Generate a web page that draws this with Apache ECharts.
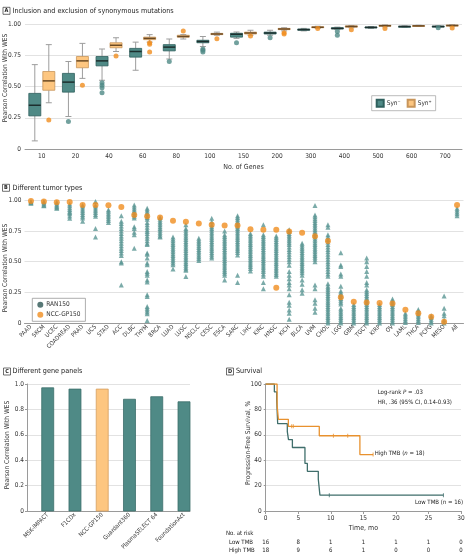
<!DOCTYPE html>
<html><head><meta charset="utf-8">
<script src="https://cdn.jsdelivr.net/npm/echarts@6/dist/echarts.min.js"></script>
<style>html,body{margin:0;padding:0;background:#fff}#c{width:468px;height:558px}</style>
</head><body><div id="c"></div>
<script>
// ---------- Panel A: inclusion / exclusion of synonymous mutations ----------
const geneCounts = ['10','20','40','60','80','100','150','200','300','400','500','600','700'];
// [low whisker, Q1, median, Q3, high whisker]
const synNegBox = [
  [0.065,0.265,0.35,0.445,0.675],
  [0.26,0.455,0.535,0.605,0.70],
  [0.55,0.665,0.705,0.74,0.80],
  [0.63,0.735,0.78,0.805,0.855],
  [0.72,0.785,0.815,0.835,0.88],
  [0.82,0.85,0.86,0.87,0.90],
  [0.885,0.895,0.918,0.926,0.936],
  [0.91,0.92,0.928,0.935,0.95],
  [0.945,0.95,0.955,0.96,0.965],
  [0.955,0.96,0.965,0.97,0.975],
  [0.965,0.97,0.973,0.976,0.98],
  [0.975,0.978,0.98,0.982,0.985],
  [0.975,0.978,0.98,0.983,0.985]
];
const synPosBox = [
  [0.37,0.47,0.545,0.62,0.835],
  [0.565,0.65,0.705,0.74,0.845],
  [0.78,0.81,0.83,0.85,0.89],
  [0.855,0.875,0.885,0.895,0.915],
  [0.88,0.895,0.90,0.91,0.915],
  [0.91,0.915,0.92,0.925,0.935],
  [0.91,0.92,0.928,0.935,0.95],
  [0.945,0.955,0.96,0.965,0.97],
  [0.965,0.97,0.974,0.978,0.982],
  [0.97,0.975,0.98,0.985,0.988],
  [0.978,0.982,0.986,0.99,0.993],
  [0.98,0.983,0.985,0.988,0.99],
  [0.982,0.985,0.988,0.991,0.994]
];
const synNegOutliers = [[1,0.22],[2,0.53],[2,0.51],[2,0.49],[2,0.45],[4,0.70],[5,0.80],[5,0.79],[5,0.776],[6,0.85],[7,0.89],[9,0.94],[9,0.91],[12,0.97]];
const synPosOutliers = [[0,0.232],[1,0.51],[2,0.744],[3,0.85],[3,0.838],[3,0.776],[4,0.944],[5,0.882],[6,0.904],[7,0.93],[7,0.92],[8,0.965],[9,0.955],[10,0.965],[12,0.968]];

// ---------- Panel B: different tumor types ----------
const tumorTypes = ['PAAD','SKCM','UCEC','COADREAD','PRAD','UCS','STAD','ACC','DLBC','THYM','BRCA','LUAD','LUSC','NSCLC','CESC','ESCA','SARC','LIHC','KIRC','HNSC','KICH','BLCA','UVM','CHOL','LGG','GBM','TGCT','KIRP','OV','LAML','THCA','PCPG','MESO','All'];
const ran150 = [
  [0.99,0.985,0.98,0.975],
  [0.99,0.98,0.97,0.96,0.955],
  [0.985,0.97,0.96,0.95,0.94,0.935],
  [0.97,0.955,0.94,0.925,0.91,0.90,0.89,0.872,0.853],
  [0.96,0.945,0.93,0.915,0.90,0.885,0.87,0.855,0.83],
  [0.99,0.96,0.945,0.93,0.915,0.90,0.885,0.87,0.77,0.70],
  [0.924,0.91,0.895,0.88,0.865,0.85,0.835,0.82],
  [0.875,0.83,0.81,0.79,0.77,0.75,0.73,0.71,0.69,0.67,0.65,0.63,0.61,0.59,0.57,0.55,0.50,0.49,0.31],
  [0.962,0.945,0.93,0.915,0.90,0.885,0.87,0.855,0.785,0.77,0.74,0.72,0.61],
  [0.935,0.92,0.905,0.89,0.875,0.86,0.845,0.82,0.80,0.78,0.76,0.745,0.73,0.71,0.69,0.67,0.65,0.64,0.57,0.56,0.53,0.49,0.475,0.42,0.405,0.39,0.35,0.335,0.23,0.215,0.135,0.12,0.105,0.09,0.075,0.02],
  [0.86,0.845,0.83,0.815,0.80,0.785,0.77,0.755,0.74,0.725,0.71,0.70],
  [0.70,0.685,0.67,0.655,0.64,0.625,0.61,0.595,0.58,0.565,0.55,0.535,0.52,0.505,0.49,0.475,0.44],
  [0.80,0.77,0.755,0.74,0.725,0.71,0.695,0.68,0.665,0.65,0.635,0.62,0.605,0.59,0.575,0.56,0.545,0.53,0.515,0.50,0.485,0.47,0.455,0.44,0.43,0.378],
  [0.69,0.675,0.66,0.645,0.63,0.615,0.60,0.585,0.57,0.555,0.54,0.525,0.51],
  [0.853,0.826,0.80,0.785,0.77,0.755,0.74,0.725,0.71,0.695,0.68,0.665,0.65,0.635,0.62,0.605,0.59,0.575,0.56,0.545,0.53],
  [0.75,0.72,0.705,0.69,0.675,0.66,0.645,0.63,0.615,0.60,0.585,0.57,0.555,0.54,0.525,0.51,0.495,0.48,0.465,0.45,0.435,0.42,0.405,0.39,0.35],
  [0.875,0.86,0.845,0.83,0.815,0.80,0.785,0.77,0.755,0.74,0.725,0.71,0.695,0.68,0.665,0.65,0.635,0.62,0.605,0.59,0.575,0.555,0.39,0.33],
  [0.73,0.715,0.70,0.685,0.67,0.655,0.64,0.625,0.61,0.595,0.58,0.565,0.55,0.535,0.52,0.505,0.49,0.475,0.46,0.445,0.424],
  [0.80,0.72,0.705,0.69,0.675,0.66,0.645,0.63,0.615,0.60,0.585,0.57,0.555,0.54,0.525,0.51,0.495,0.48,0.465,0.45,0.435,0.42,0.40,0.38,0.33,0.28],
  [0.71,0.695,0.68,0.665,0.65,0.635,0.62,0.605,0.59,0.575,0.56,0.545,0.53,0.515,0.50,0.485,0.47,0.455,0.44,0.425,0.41,0.395,0.38],
  [0.76,0.745,0.73,0.715,0.70,0.685,0.67,0.655,0.64,0.62,0.60,0.58,0.56,0.54,0.52,0.50,0.47,0.42,0.39,0.36,0.33,0.31,0.28,0.23,0.17,0.145,0.105,0.08,0.03],
  [0.65,0.635,0.62,0.605,0.59,0.575,0.56,0.545,0.53,0.515,0.50,0.485,0.47,0.455,0.44,0.425,0.41,0.39,0.35,0.315,0.27,0.242],
  [0.957,0.88,0.865,0.85,0.835,0.82,0.805,0.79,0.775,0.76,0.745,0.73,0.715,0.70,0.685,0.67,0.655,0.64,0.625,0.61,0.595,0.58,0.565,0.55,0.535,0.52,0.50,0.31,0.28,0.19,0.16,0.12,0.087],
  [0.80,0.78,0.72,0.70,0.68,0.66,0.64,0.62,0.60,0.58,0.56,0.54,0.52,0.50,0.48,0.46,0.44,0.42,0.40,0.38,0.32,0.30,0.285,0.27,0.255,0.24,0.225,0.21,0.195,0.18,0.165,0.15,0.135,0.12,0.105,0.09,0.075,0.06,0.045,0.03,0.015,0.0],
  [0.573,0.473,0.46,0.40,0.38,0.30,0.26,0.245,0.23,0.215,0.20,0.185,0.17,0.155,0.12,0.105,0.09,0.075,0.06,0.045,0.03,0.015,0.0],
  [0.15,0.135,0.12,0.105,0.09,0.075,0.06,0.045,0.03,0.015,0.0],
  [0.53,0.50,0.46,0.42,0.38,0.33,0.31,0.27,0.255,0.24,0.225,0.21,0.195,0.18,0.165,0.15,0.135,0.12,0.105,0.09,0.075,0.06,0.045,0.03,0.015,0.0],
  [0.15,0.135,0.12,0.105,0.09,0.075,0.06,0.045,0.03,0.015,0.0],
  [0.196,0.18,0.165,0.15,0.135,0.12,0.105,0.09,0.075,0.06,0.045,0.03,0.015,0.0],
  [0.08,0.065,0.05,0.035,0.02,0.005],
  [0.11,0.095,0.08,0.065,0.05,0.035,0.02,0.005],
  [0.06,0.045,0.03,0.015,0.0],
  [0.22,0.12,0.08,0.06,0.025,0.0],
  [0.935,0.92,0.905,0.89,0.875]
];
const nccGp150 = [0.995,0.99,0.985,0.986,0.962,0.962,0.959,0.945,0.88,0.87,0.86,0.834,0.826,0.81,0.80,0.794,0.794,0.764,0.76,0.76,0.745,0.736,0.707,0.668,0.21,0.174,0.168,0.163,0.158,0.109,0.079,0.05,0.01,0.962];
const nccGp150Extra = [['HNSC',0.288]];

// ---------- Panel C: different gene panels ----------
const genePanels = ['MSK-IMPACT','F1CDx','NCC-GP150','Guardant360','PlasmaSELECT 64','FoundationAct'];
const panelCorr = [0.97,0.96,0.96,0.88,0.90,0.86];
const highlightPanel = 'NCC-GP150';

// ---------- Panel D: survival ----------
const lowTmbCurve = [[0,100],[1.33,93.75],[1.69,87.5],[1.84,68.75],[3.32,62.5],[3.5,56.25],[4.1,50],[6.03,37.5],[6.4,31.25],[8.08,25],[8.33,12.5],[27.3,12.5]];
const highTmbCurve = [[0,100],[1.75,83.33],[1.95,72.22],[3.48,66.67],[8.23,59.26],[14.47,44.44],[16.5,44.44]];
const lowTmbCensor = [[9.77,12.5],[27.3,12.5]];
const highTmbCensor = [[3.99,66.67],[4.24,66.67],[10.4,59.26],[12.6,59.26],[16.5,44.44]];
const riskTimes = [0,5,10,15,20,25,30];
const lowAtRisk = [16,8,1,1,1,1,0];
const highAtRisk = [18,9,6,1,0,0,0];

// ---------- styling ----------
const FONT = '"Liberation Sans Narrow","DejaVu Sans Condensed","Liberation Sans",sans-serif';
const TXT = '#333', AX = '#9a9a9a', GRID = '#e2e2e2';
const TEAL = '#4f8a86', TEAL_DARK = '#2f605d', OR_LIGHT = '#fdc680', OR_BORDER = '#c8955a', ORANGE = '#f08d1f', TRI = '#5a9693';
const LOW_LINE = '#3f6e6b', HIGH_LINE = '#e8912e';
const fmt2 = v => v === 0 ? '0' : v.toFixed(2);
const fmt1 = v => v === 0 ? '0' : v.toFixed(1);
const lab = (o) => Object.assign({fontFamily: FONT, fontSize: 6.5, color: TXT}, o || {});

function boxItem(offset, fill, stroke, median) {
  return function (params, api) {
    const i = api.value(0);
    const p = [1,2,3,4,5].map(k => api.coord([i, api.value(k)]));
    const x = p[0][0] + offset, w = 12, cap = 6;
    const ws = {stroke: '#9d9d9d', lineWidth: 1};
    return {type: 'group', children: [
      {type: 'line', shape: {x1: x, y1: p[4][1], x2: x, y2: p[3][1]}, style: ws},
      {type: 'line', shape: {x1: x, y1: p[1][1], x2: x, y2: p[0][1]}, style: ws},
      {type: 'line', shape: {x1: x - cap/2, y1: p[4][1], x2: x + cap/2, y2: p[4][1]}, style: ws},
      {type: 'line', shape: {x1: x - cap/2, y1: p[0][1], x2: x + cap/2, y2: p[0][1]}, style: ws},
      {type: 'rect', shape: {x: x - w/2, y: p[3][1], width: w, height: Math.max(p[1][1] - p[3][1], 1)}, style: {fill: fill, stroke: stroke, lineWidth: 0.8}},
      {type: 'line', shape: {x1: x - w/2, y1: p[2][1], x2: x + w/2, y2: p[2][1]}, style: {stroke: median, lineWidth: 1.5}}
    ]};
  };
}
function barItem(params, api) {
  const i = api.value(0);
  const top = api.coord([i, api.value(1)]);
  const base = api.coord([i, 0]);
  const hi = genePanels[i] === highlightPanel;
  return {type: 'rect', shape: {x: top[0] - 6, y: top[1], width: 12, height: base[1] - top[1]},
    style: {fill: hi ? OR_LIGHT : TEAL, stroke: hi ? '#d49f5f' : '#3c6f6b', lineWidth: 0.8}};
}

const chart = echarts.init(document.getElementById('c'), null, {renderer: 'canvas', width: 468, height: 558});

const gridBase = {containLabel: false, outerBoundsMode: 'none'};
const option = {
  animation: false,
  backgroundColor: '#fff',
  textStyle: {fontFamily: FONT},
  grid: [
    Object.assign({left: 25, top: 24, width: 437, height: 125}, gridBase),
    Object.assign({left: 24.5, top: 200.3, width: 439, height: 122.7}, gridBase),
    Object.assign({left: 27, top: 384, width: 163, height: 127}, gridBase),
    Object.assign({left: 265.7, top: 384, width: 195.3, height: 127}, gridBase)
  ],
  legend: [
    {left: 371.7, top: 95.7, orient: 'horizontal', padding: [3, 4], itemGap: 6, itemWidth: 7, itemHeight: 7,
     borderColor: '#aaa', borderWidth: 0.8, backgroundColor: '#fff', textStyle: lab({padding: [0, 0, 0, -2]}),
     selectedMode: false,
     data: [{name: 'Syn⁻', icon: 'rect'}, {name: 'Syn⁺', icon: 'rect'}]},
    {left: 32.3, top: 298.3, orient: 'vertical', padding: [3, 5], itemGap: 3, itemWidth: 6, itemHeight: 6,
     borderColor: '#999', borderWidth: 0.8, backgroundColor: '#fff', textStyle: lab({padding: [0, 0, 0, -2]}),
     selectedMode: false,
     data: [{name: 'RAN150', icon: 'circle', itemStyle: {color: '#2d5654'}}, {name: 'NCC-GP150', icon: 'circle'}]}
  ],
  xAxis: [
    {gridIndex: 0, type: 'category', data: geneCounts,
     axisLine: {lineStyle: {color: AX}}, axisTick: {alignWithLabel: true, length: 3, lineStyle: {color: AX}},
     axisLabel: lab({margin: 4}), name: 'No. of Genes', nameLocation: 'middle', nameGap: 15, nameTextStyle: lab({fontSize: 7})},
    {gridIndex: 1, type: 'category', data: tumorTypes,
     axisLine: {lineStyle: {color: AX}}, axisTick: {alignWithLabel: true, length: 3, lineStyle: {color: AX}},
     axisLabel: lab({rotate: 45, interval: 0, margin: 3, fontSize: 6})},
    {gridIndex: 2, type: 'value', min: -0.76, max: 5.22, splitLine: {show: false},
     axisLine: {onZero: false, lineStyle: {color: AX}}, axisTick: {show: false},
     axisLabel: lab({rotate: 45, margin: 3, fontSize: 6, customValues: [0,1,2,3,4,5], formatter: v => genePanels[Math.round(v)] || ''})},
    {gridIndex: 3, type: 'value', min: 0, max: 30, interval: 5, splitLine: {show: false},
     axisLine: {onZero: false, lineStyle: {color: AX}}, axisTick: {length: 3, lineStyle: {color: AX}},
     axisLabel: lab({margin: 4}), name: 'Time, mo', nameLocation: 'middle', nameGap: 14, nameTextStyle: lab({fontSize: 7})}
  ],
  yAxis: [
    {gridIndex: 0, type: 'value', min: 0, max: 1, interval: 0.25, axisLine: {show: false}, axisTick: {show: false},
     splitLine: {lineStyle: {color: GRID}}, axisLabel: lab({formatter: fmt2, margin: 4})},
    {gridIndex: 1, type: 'value', min: 0, max: 1, interval: 0.25, axisLine: {show: false}, axisTick: {show: false},
     splitLine: {lineStyle: {color: GRID}}, axisLabel: lab({formatter: fmt2, margin: 3})},
    {gridIndex: 2, type: 'value', min: 0, max: 1, interval: 0.2, axisLine: {show: true, onZero: false, lineStyle: {color: AX}}, axisTick: {show: true, length: 2, lineStyle: {color: AX}},
     splitLine: {lineStyle: {color: GRID}}, axisLabel: lab({formatter: fmt1, margin: 3})},
    {gridIndex: 3, type: 'value', min: 0, max: 100, interval: 20, axisLine: {show: true, onZero: false, lineStyle: {color: AX}}, axisTick: {show: true, length: 2, lineStyle: {color: AX}},
     splitLine: {lineStyle: {color: GRID}}, axisLabel: lab({margin: 4})}
  ],
  series: [
    {name: 'Syn⁻', type: 'custom', xAxisIndex: 0, yAxisIndex: 0, renderItem: boxItem(-7, TEAL, TEAL_DARK, '#1d2f2e'),
     itemStyle: {color: TEAL, borderColor: TEAL_DARK, borderWidth: 0.8},
     encode: {x: 0, y: [1,2,3,4,5]}, data: synNegBox.map((d, i) => [i].concat(d)), z: 2},
    {name: 'Syn⁺', type: 'custom', xAxisIndex: 0, yAxisIndex: 0, renderItem: boxItem(7, OR_LIGHT, OR_BORDER, '#6b4a24'),
     itemStyle: {color: OR_LIGHT, borderColor: OR_BORDER, borderWidth: 0.8},
     encode: {x: 0, y: [1,2,3,4,5]}, data: synPosBox.map((d, i) => [i].concat(d)), z: 2},
    {name: 'synNegOut', type: 'scatter', xAxisIndex: 0, yAxisIndex: 0, symbol: 'circle', symbolSize: 5, symbolOffset: [-7, 0],
     itemStyle: {color: TEAL}, data: synNegOutliers, z: 3},
    {name: 'synPosOut', type: 'scatter', xAxisIndex: 0, yAxisIndex: 0, symbol: 'circle', symbolSize: 5, symbolOffset: [7, 0],
     itemStyle: {color: ORANGE}, data: synPosOutliers, z: 3},
    {name: 'RAN150', type: 'scatter', xAxisIndex: 1, yAxisIndex: 1, symbol: 'triangle', symbolSize: 5,
     itemStyle: {color: TRI}, data: ran150.flatMap((vals, i) => vals.map(v => [i, v])), z: 2},
    {name: 'NCC-GP150', type: 'scatter', xAxisIndex: 1, yAxisIndex: 1, symbol: 'circle', symbolSize: 6,
     itemStyle: {color: ORANGE}, data: nccGp150.map((v, i) => [i, v]).concat(nccGp150Extra.map(d => [tumorTypes.indexOf(d[0]), d[1]])), z: 3},
    {name: 'panels', type: 'custom', xAxisIndex: 2, yAxisIndex: 2, renderItem: barItem,
     encode: {x: 0, y: 1}, data: panelCorr.map((v, i) => [i, v])},
    {name: 'Low TMB', type: 'line', xAxisIndex: 3, yAxisIndex: 3, step: 'end', symbol: 'none', lineStyle: {color: LOW_LINE, width: 1.3}, data: lowTmbCurve},
    {name: 'High TMB', type: 'line', xAxisIndex: 3, yAxisIndex: 3, step: 'end', symbol: 'none', lineStyle: {color: HIGH_LINE, width: 1.3}, data: highTmbCurve},
    {name: 'lowCens', type: 'scatter', xAxisIndex: 3, yAxisIndex: 3, symbol: 'rect', symbolSize: [1, 4], itemStyle: {color: LOW_LINE}, data: lowTmbCensor},
    {name: 'highCens', type: 'scatter', xAxisIndex: 3, yAxisIndex: 3, symbol: 'rect', symbolSize: [1, 4], itemStyle: {color: HIGH_LINE}, data: highTmbCensor}
  ]
};
chart.setOption(option);

// ---------- annotations ----------
function panelTitle(letter, bx, by, tx, ty, text) {
  return [
    {type: 'rect', shape: {x: bx, y: by, width: 7, height: 7}, style: {fill: 'none', stroke: '#333', lineWidth: 0.7}},
    {type: 'text', x: bx + 3.5, y: by + 3.7, style: {text: letter, font: 'bold 5.5px ' + FONT, fill: '#222', align: 'center', verticalAlign: 'middle'}},
    {type: 'text', x: tx, y: ty, style: {text: text, font: '7.2px ' + FONT, fill: '#222', verticalAlign: 'middle'}}
  ];
}
function yName(x, y, text) {
  return {type: 'text', x: x, y: y, rotation: Math.PI / 2, style: {text: text, font: '6.6px ' + FONT, fill: TXT, align: 'center', verticalAlign: 'middle'}};
}
const SMALL = '6px ' + FONT;
const g = [];
g.push(...panelTitle('A', 3, 7.3, 12.5, 10.8, 'Inclusion and exclusion of synonymous mutations'));
g.push(...panelTitle('B', 2.5, 184.3, 12.5, 187.7, 'Different tumor types'));
g.push(...panelTitle('C', 3.5, 368, 12.5, 371.5, 'Different gene panels'));
g.push(...panelTitle('D', 226.5, 368, 236, 371.5, 'Survival'));
g.push(yName(5, 78, 'Pearson Correlation With WES'));
g.push(yName(5, 268, 'Pearson Correlation With WES'));
g.push(yName(7, 445, 'Pearson Correlation With WES'));
g.push(yName(248, 443, 'Progression-Free Survival, %'));
const ital = {i: {fontStyle: 'italic', fontFamily: FONT, fontSize: 6}};
g.push({type: 'text', x: 377.7, y: 392.7, style: {text: 'Log-rank {i|P} = .03', font: SMALL, fill: '#222', verticalAlign: 'middle', rich: ital}});
g.push({type: 'text', x: 377.7, y: 402.3, style: {text: 'HR, .36 (95% CI, 0.14-0.93)', font: SMALL, fill: '#222', verticalAlign: 'middle'}});
g.push({type: 'text', x: 374.7, y: 453.3, style: {text: 'High TMB ({i|n} = 18)', font: SMALL, fill: '#222', verticalAlign: 'middle', rich: ital}});
g.push({type: 'text', x: 415, y: 502, style: {text: 'Low TMB ({i|n} = 16)', font: SMALL, fill: '#222', verticalAlign: 'middle', rich: ital}});
g.push({type: 'text', x: 226, y: 533.7, style: {text: 'No. at risk', font: SMALL, fill: '#222', verticalAlign: 'middle'}});
g.push({type: 'text', x: 229, y: 542.3, style: {text: 'Low TMB', font: SMALL, fill: '#222', verticalAlign: 'middle'}});
g.push({type: 'text', x: 229, y: 550.3, style: {text: 'High TMB', font: SMALL, fill: '#222', verticalAlign: 'middle'}});
riskTimes.forEach((t, i) => {
  const px = chart.convertToPixel({xAxisIndex: 3}, t);
  g.push({type: 'text', x: px, y: 542.3, style: {text: String(lowAtRisk[i]), font: SMALL, fill: '#222', align: 'center', verticalAlign: 'middle'}});
  g.push({type: 'text', x: px, y: 550.3, style: {text: String(highAtRisk[i]), font: SMALL, fill: '#222', align: 'center', verticalAlign: 'middle'}});
});
chart.setOption({graphic: g});
</script>
</body></html>
